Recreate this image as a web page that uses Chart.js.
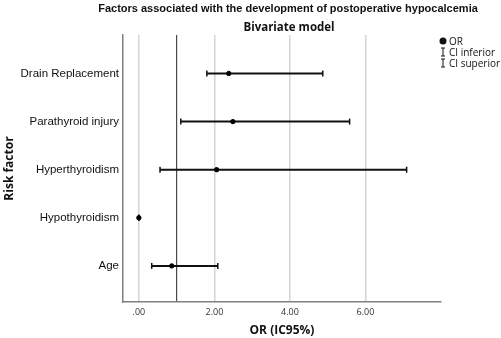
<!DOCTYPE html>
<html>
<head>
<meta charset="utf-8">
<script src="https://cdn.jsdelivr.net/npm/chart.js@4"></script>
<style>
  html, body { margin: 0; padding: 0; background: #fff; }
  #wrap { width: 501px; height: 338px; }
</style>
</head>
<body>
<div id="wrap"><canvas id="orChart" width="501" height="338"></canvas></div>
<script>
// rows from bottom (y=1) to top (y=5)
let categories = ['Age', 'Hypothyroidism', 'Hyperthyroidism', 'Parathyroid injury', 'Drain Replacement'];
let orValues = [0.87, 0.00, 2.06, 2.49, 2.38];
let ciLower = [0.34, 0.00, 0.56, 1.11, 1.80];
let ciUpper = [2.09, 0.00, 7.09, 5.58, 4.87];
let xTicks = [0, 1, 2, 4, 6];   // 1 = reference line, no label
let refValue = 1;

let titleText = 'Factors associated with the development of postoperative hypocalcemia';
let subtitleText = 'Bivariate model';
let legendItems = ['OR', 'CI inferior', 'CI superior'];

// one small dataset per row for the CI whiskers
let ciSets = categories.map(function (c, i) {
  return {
    type: 'line',
    label: 'CI ' + c,
    data: [{ x: ciLower[i], y: i + 1 }, { x: ciUpper[i], y: i + 1 }],
    borderColor: '#111',
    borderWidth: 2,
    pointStyle: 'line',
    pointRotation: 90,
    pointRadius: 3,
    pointBorderWidth: 1.5,
    pointBorderColor: '#111',
    order: 2
  };
});

let orSet = {
  type: 'scatter',
  label: 'OR',
  data: orValues.map(function (v, i) { return { x: v, y: i + 1 }; }),
  backgroundColor: '#000',
  borderColor: '#000',
  pointRadius: 2.2,
  order: 1
};

// titles + custom legend
let decorPlugin = {
  id: 'decor',
  afterDraw: function (chart) {
    let ctx = chart.ctx;
    ctx.save();
    ctx.fillStyle = '#111';
    ctx.textAlign = 'center';
    ctx.textBaseline = 'middle';
    ctx.font = 'bold 11px "Liberation Sans", Arial, sans-serif';
    ctx.fillText(titleText, 288, 9);
    ctx.font = 'bold 11.5px "Open Sans", sans-serif';
    ctx.fillText(subtitleText, 289, 28);

    // legend
    ctx.textAlign = 'left';
    ctx.font = '10px "Open Sans", sans-serif';
    let lx = 443, ly = 41;
    ctx.beginPath();
    ctx.arc(lx, ly, 3.5, 0, Math.PI * 2);
    ctx.fill();
    ctx.fillText(legendItems[0], lx + 6, ly + 1);
    ctx.strokeStyle = '#111';
    ctx.lineWidth = 1;
    for (let k = 1; k < legendItems.length; k++) {
      let y = ly + k * 11;
      ctx.beginPath();
      ctx.moveTo(lx, y - 4); ctx.lineTo(lx, y + 4);
      ctx.moveTo(lx - 2, y - 4); ctx.lineTo(lx + 2, y - 4);
      ctx.moveTo(lx - 2, y + 4); ctx.lineTo(lx + 2, y + 4);
      ctx.stroke();
      ctx.fillText(legendItems[k], lx + 6, y + 1);
    }
    ctx.restore();
  }
};

let chart = new Chart(document.getElementById('orChart'), {
  type: 'scatter',
  data: { datasets: ciSets.concat([orSet]) },
  options: {
    responsive: false,
    animation: false,
    layout: { padding: { top: 35, right: 60, bottom: 0, left: 0 } },
    plugins: {
      legend: { display: false },
      tooltip: { enabled: false }
    },
    scales: {
      x: {
        type: 'linear',
        min: -0.42,
        max: 8,
        afterBuildTicks: function (axis) {
          axis.ticks = xTicks.map(function (v) { return { value: v }; });
        },
        afterFit: function (axis) { axis.height = 36; },
        grid: {
          drawTicks: false,
          color: function (c) { return c.tick && c.tick.value === refValue ? '#4a4a4a' : '#d4d4d4'; },
          lineWidth: function (c) { return c.tick && c.tick.value === refValue ? 1.2 : 1.5; }
        },
        border: { color: '#808080', width: 1.5 },
        ticks: {
          padding: 5,
          color: '#333',
          font: { family: '"Open Sans", sans-serif', size: 9 },
          callback: function (v) {
            if (v === refValue) return '';
            return v === 0 ? '.00' : v.toFixed(2);
          }
        },
        title: {
          display: true,
          text: 'OR (IC95%)',
          color: '#111',
          font: { family: '"Open Sans", sans-serif', size: 12, weight: 'bold' },
          padding: { top: 0, bottom: 0 }
        }
      },
      y: {
        type: 'linear',
        min: 0.25,
        max: 5.8,
        afterBuildTicks: function (axis) {
          axis.ticks = categories.map(function (c, i) { return { value: i + 1 }; });
        },
        afterFit: function (axis) { axis.width = 123; },
        grid: { display: false, drawTicks: false },
        border: { color: '#808080', width: 1.5 },
        ticks: {
          padding: 4,
          color: '#111',
          font: { family: '"Liberation Sans", Arial, sans-serif', size: 11.5 },
          callback: function (v) { return categories[v - 1]; }
        },
        title: {
          display: true,
          text: 'Risk factor',
          color: '#111',
          font: { family: '"Open Sans", sans-serif', size: 12, weight: 'bold' },
          padding: { top: 2, bottom: 0 }
        }
      }
    }
  },
  plugins: [decorPlugin]
});
</script>
</body>
</html>
